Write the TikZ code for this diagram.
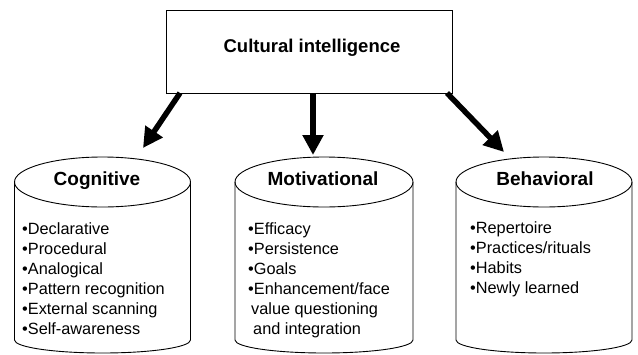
\documentclass[tikz,border=0pt]{standalone}
\usepackage{fontspec}
\setmainfont{Liberation Sans}
\usetikzlibrary{arrows.meta}
\tikzset{
  thinline/.style={line width=0.9pt},
  bigarrow/.style={line width=5.5pt, -{Triangle[length=20pt,width=20pt]}},
  title/.style={font=\fontsize{19}{22}\selectfont\bfseries, inner sep=0pt, anchor=base},
  item/.style={font=\fontsize{16.3}{20}\selectfont, inner sep=0pt, anchor=base west},
}
\newcommand\drawcyl[3]{% cx, rx, name
  \draw[thinline] (#1-#2,182) -- (#1-#2,340) arc[start angle=180,end angle=0,x radius=#2,y radius=13] -- (#1+#2,182);
  \draw[thinline] (#1,182) ellipse[x radius=#2, y radius=25];
  \coordinate (#3top) at (#1,157);
}
\begin{document}
\begin{tikzpicture}[x=1pt,y=-1pt]
\useasboundingbox (0,0) rectangle (638,354);
\fill[white] (0,0) rectangle (638,354);
% top box
\node[draw, thinline, minimum width=286pt, minimum height=83pt, inner sep=0pt] (ci) at (309,51.5) {};
\node[font=\fontsize{18.5}{22}\selectfont\bfseries, inner sep=0pt, anchor=base] (citext) at (312,52) {Cultural intelligence};
% cylinders
\drawcyl{102.5}{88}{cog}
\drawcyl{324}{89}{mot}
\drawcyl{544}{88}{beh}
% titles
\node[title] (cogt) at (97,185) {Cognitive};
\node[title] (mott) at (323,185) {Motivational};
\node[title] (beht) at (545,185) {Behavioral};
% items
\foreach \t [count=\i] in {Declarative,Procedural,Analogical,Pattern recognition,External scanning,Self-awareness}
  \node[item] (cog\i) at (22,{234+20*(\i-1)}) {•\t};
\foreach \t [count=\i] in {Efficacy,Persistence,Goals,Enhancement/face}
  \node[item] (mot\i) at (248,{234+20*(\i-1)}) {•\t};
\node[item] (mot5) at (251,314) {value questioning};
\node[item] (mot6) at (253,334) {and integration};
\foreach \t [count=\i] in {Repertoire,Practices/rituals,Habits,Newly learned}
  \node[item] (beh\i) at (470,{233+20*(\i-1)}) {•\t};
% arrows
\coordinate (a1s) at (180,93);
\coordinate (a1e) at (143,148);
\coordinate (a2s) at (313,93);
\coordinate (a2e) at (313,155);
\coordinate (a3s) at (447,93);
\coordinate (a3e) at (504,152);
\draw[bigarrow] (a1s) -- (a1e);
\draw[bigarrow] (a2s) -- (a2e);
\draw[bigarrow] (a3s) -- (a3e);
\end{tikzpicture}
\end{document}
